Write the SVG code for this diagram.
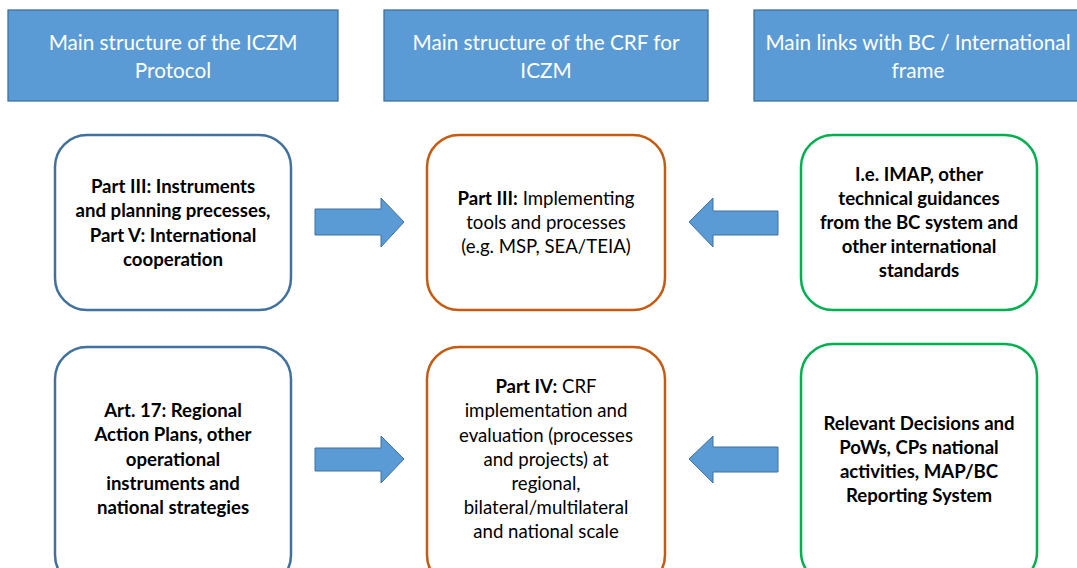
<svg xmlns="http://www.w3.org/2000/svg" width="1077" height="568" viewBox="0 0 1077 568">
<style>
.hdr rect{fill:#5B9BD5;stroke:#41719C;stroke-width:1.3}
.hdr text{fill:#fff;font-family:Lato,"Liberation Sans",sans-serif;font-size:20.7px;text-anchor:middle}
.box rect{fill:#fff;stroke-width:2.5}
.blue rect{stroke:#41719C}
.orange rect{stroke:#C55A11}
.green rect{stroke:#00B050}
.box text{fill:#000;font-family:Lato,"Liberation Sans",sans-serif;font-size:18.6px;text-anchor:middle}
.b{font-weight:bold}
.arr{fill:#5B9BD5;stroke:#41719C;stroke-width:1}
</style>
<rect width="1077" height="568" fill="#fff"/>
<g id="hdr1" class="hdr"><rect x="8" y="10" width="330" height="91"/><text x="173" y="50">Main structure of the ICZM</text><text x="173" y="78">Protocol</text></g>
<g id="hdr2" class="hdr"><rect x="384" y="10" width="324" height="91"/><text x="546" y="50">Main structure of the CRF for</text><text x="546" y="78">ICZM</text></g>
<g id="hdr3" class="hdr"><rect x="754" y="10" width="330" height="91"/><text x="918" y="50">Main links with BC / International</text><text x="918" y="78">frame</text></g>

<g id="n1" class="box blue"><rect x="55" y="135" width="236" height="175" rx="32"/>
<text class="b" x="173" y="193">Part III: Instruments</text>
<text class="b" x="173" y="217">and planning precesses,</text>
<text class="b" x="173" y="242">Part V: International</text>
<text class="b" x="173" y="266">cooperation</text></g>
<g id="n2" class="box orange"><rect x="427" y="135" width="238" height="175" rx="32"/>
<text x="546" y="205"><tspan class="b">Part III:</tspan> Implementing</text>
<text x="546" y="229">tools and processes</text>
<text x="546" y="253">(e.g. MSP, SEA/TEIA)</text></g>
<g id="n3" class="box green"><rect x="801" y="135" width="236" height="175" rx="32"/>
<text class="b" x="919" y="181">I.e. IMAP, other</text>
<text class="b" x="919" y="205">technical guidances</text>
<text class="b" x="919" y="229">from the BC system and</text>
<text class="b" x="919" y="253">other international</text>
<text class="b" x="919" y="277">standards</text></g>

<g id="n4" class="box blue"><rect x="55" y="347" width="236" height="240" rx="32"/>
<text class="b" x="173" y="417">Art. 17: Regional</text>
<text class="b" x="173" y="441">Action Plans, other</text>
<text class="b" x="173" y="466">operational</text>
<text class="b" x="173" y="490">instruments and</text>
<text class="b" x="173" y="514">national strategies</text></g>
<g id="n5" class="box orange"><rect x="427" y="347" width="238" height="240" rx="32"/>
<text x="546" y="393"><tspan class="b">Part IV:</tspan> CRF</text>
<text x="546" y="417">implementation and</text>
<text x="546" y="442">evaluation (processes</text>
<text x="546" y="466">and projects) at</text>
<text x="546" y="490">regional,</text>
<text x="546" y="514">bilateral/multilateral</text>
<text x="546" y="538">and national scale</text></g>
<g id="n6" class="box green"><rect x="801" y="344" width="236" height="240" rx="32"/>
<text class="b" x="919" y="430">Relevant Decisions and</text>
<text class="b" x="919" y="454">PoWs, CPs national</text>
<text class="b" x="919" y="478">activities, MAP/BC</text>
<text class="b" x="919" y="502">Reporting System</text></g>

<g id="connectors">
<path class="arr" d="M315,209 H381 V198 L404,222 L381,247 V235 H315 Z"/>
<path class="arr" d="M778,211 H713 V198 L689,222 L713,247 V235 H778 Z"/>
<path class="arr" d="M315,448 H381 V436 L404,459 L381,483 V471 H315 Z"/>
<path class="arr" d="M778,447 H713 V436 L689,459 L713,483 V472 H778 Z"/>
</g>
</svg>
